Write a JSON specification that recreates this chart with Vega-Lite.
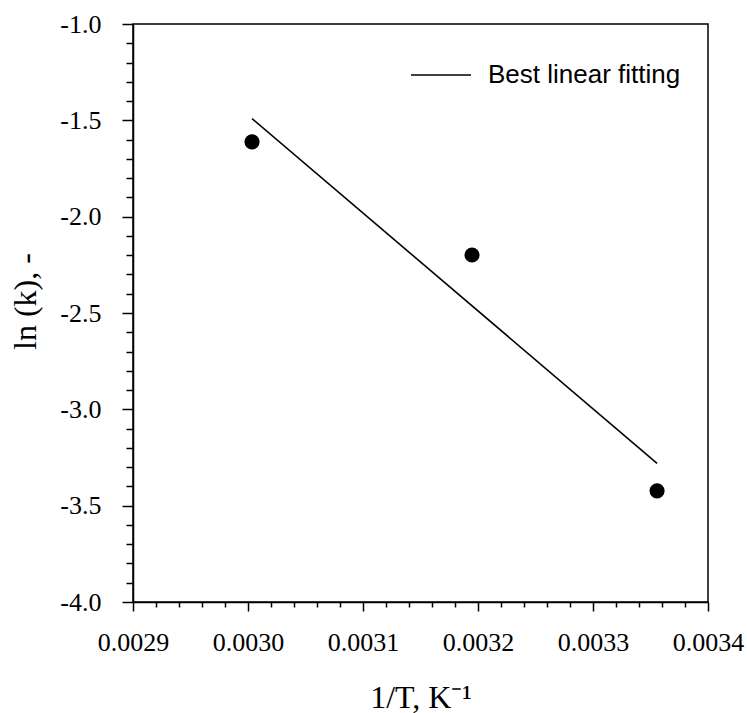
{
  "$schema": "https://vega.github.io/schema/vega-lite/v6.json",
  "width": 575,
  "height": 578,
  "autosize": {"type": "none"},
  "padding": {"left": 133, "top": 24, "right": 39, "bottom": 111},
  "background": "white",
  "config": {
    "view": {"stroke": "black", "strokeWidth": 1.5},
    "axis": {
      "domainColor": "black",
      "domainWidth": 1.5,
      "tickColor": "black",
      "tickWidth": 1.5,
      "grid": false,
      "labelFont": "Liberation Serif",
      "labelFontSize": 26,
      "labelColor": "black",
      "labelOverlap": false,
      "labelFlush": false,
      "titleFont": "Liberation Serif",
      "titleFontSize": 32,
      "titleFontWeight": "normal",
      "titleColor": "black"
    }
  },
  "datasets": {
    "measured": [
      {"inv_T": 0.0030035, "ln_k": -1.612},
      {"inv_T": 0.0031948, "ln_k": -2.199},
      {"inv_T": 0.0033557, "ln_k": -3.423}
    ],
    "fit": [
      {"inv_T": 0.0030035, "ln_k": -1.491, "series": "Best linear fitting"},
      {"inv_T": 0.0033557, "ln_k": -3.280, "series": "Best linear fitting"}
    ]
  },
  "encoding": {
    "x": {
      "field": "inv_T",
      "type": "quantitative",
      "scale": {"domain": [0.0029, 0.0034], "nice": false, "zero": false},
      "axis": {
        "title": "1/T, K⁻¹",
        "values": [0.0029, 0.00292, 0.00294, 0.00296, 0.00298, 0.003, 0.00302, 0.00304, 0.00306, 0.00308, 0.0031, 0.00312, 0.00314, 0.00316, 0.00318, 0.0032, 0.00322, 0.00324, 0.00326, 0.00328, 0.0033, 0.00332, 0.00334, 0.00336, 0.00338, 0.0034],
        "labelExpr": "abs(datum.value * 10000 - round(datum.value * 10000)) < 0.001 ? format(datum.value, '.4f') : ''",
        "tickSize": {"condition": {"test": "abs(datum.value * 10000 - round(datum.value * 10000)) < 0.001", "value": 9}, "value": 5},
        "labelPadding": 18,
        "titleX": 287.5,
        "titleY": 105,
        "titleAlign": "center",
        "titleBaseline": "alphabetic"
      }
    },
    "y": {
      "field": "ln_k",
      "type": "quantitative",
      "scale": {"domain": [-4, -1], "nice": false, "zero": false},
      "axis": {
        "title": "ln (k), -",
        "values": [-4, -3.9, -3.8, -3.7, -3.6, -3.5, -3.4, -3.3, -3.2, -3.1, -3, -2.9, -2.8, -2.7, -2.6, -2.5, -2.4, -2.3, -2.2, -2.1, -2, -1.9, -1.8, -1.7, -1.6, -1.5, -1.4, -1.3, -1.2, -1.1, -1],
        "labelExpr": "abs(datum.value * 2 - round(datum.value * 2)) < 0.001 ? replace(format(datum.value, '.1f'), '\u2212', '-') : ''",
        "tickSize": {"condition": {"test": "abs(datum.value * 2 - round(datum.value * 2)) < 0.001", "value": 11}, "value": 7},
        "labelPadding": 21,
        "titleX": -108,
        "titleY": 277,
        "titleAngle": -90,
        "titleAlign": "center",
        "titleBaseline": "middle"
      }
    }
  },
  "layer": [
    {
      "data": {"name": "fit"},
      "mark": {"type": "line", "strokeWidth": 1.6},
      "encoding": {
        "color": {
          "field": "series",
          "type": "nominal",
          "scale": {"domain": ["Best linear fitting"], "range": ["black"]},
          "legend": {
            "title": null,
            "orient": "none",
            "legendX": 277,
            "legendY": 20,
            "padding": 0,
            "symbolType": "stroke",
            "symbolSize": 3600,
            "symbolStrokeWidth": 1.6,
            "symbolStrokeColor": "black",
            "labelFont": "Liberation Sans",
            "labelFontSize": 26,
            "labelColor": "black",
            "labelOffset": 16,
            "labelLimit": 400
          }
        }
      }
    },
    {
      "data": {"name": "measured"},
      "mark": {"type": "circle", "size": 230, "color": "black", "opacity": 1}
    }
  ]
}
